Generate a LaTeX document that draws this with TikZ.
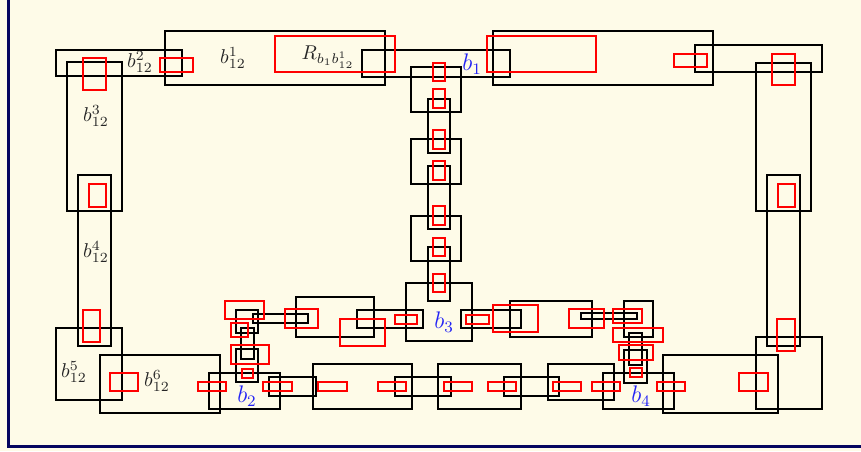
\documentclass[tikz,border=0pt]{standalone}
\begin{document}
\definecolor{paper}{RGB}{254,251,232}
\definecolor{framenavy}{RGB}{5,5,95}
\definecolor{lblblue}{RGB}{35,35,245}
\begin{tikzpicture}[x=0.5pt,y=-0.5pt,
  blk/.style={draw=black,line width=1.2pt},
  rd/.style={draw=red,line width=1.2pt},
  lbl/.style={inner sep=0pt,text=black!85},
  blbl/.style={inner sep=0pt,text=lblblue,font=\large}]
\newcommand\blkrect[4]{\draw[blk] (#1,#2) rectangle (#3,#4);}
\newcommand\redrect[4]{\draw[rd] (#1,#2) rectangle (#3,#4);}
% page
\fill[paper] (0,0) rectangle (861,451);
\useasboundingbox (0,0) rectangle (861,451);
\draw[framenavy,line width=1.5pt] (8,-5) -- (8,446.5) -- (870,446.5);

% ---- outer ring, left part
\blkrect{56}{50}{182}{76}
\blkrect{165}{31}{385}{85}
\blkrect{67}{62}{122}{211}
\blkrect{78}{175}{111}{346}
\blkrect{56}{328}{122}{400}
\blkrect{100}{355}{220}{413}
% ---- top bar
\blkrect{362}{50}{510}{77}
\blkrect{493}{31}{713}{85}
\blkrect{695}{45}{822}{72}
% ---- right side
\blkrect{756}{63}{811}{211}
\blkrect{767}{175}{800}{346}
\blkrect{756}{337}{822}{409}
\blkrect{663}{355}{778}{413}
\blkrect{603}{373}{674}{409}
% ---- vertical chain b1 -> b3
\blkrect{411}{67}{461}{112}
\blkrect{428}{99}{450}{153}
\blkrect{411}{139}{461}{184}
\blkrect{428}{166}{450}{229}
\blkrect{411}{216}{461}{261}
\blkrect{428}{247}{450}{301}
\blkrect{406}{283}{472}{341}
% ---- middle row through b3
\blkrect{357}{310}{423}{328}
\blkrect{296}{297}{374}{337}
\blkrect{253}{314}{308}{323}
\blkrect{461}{310}{521}{328}
\blkrect{510}{301}{592}{337}
\blkrect{581}{313}{637}{319}
\blkrect{624}{301}{653}{337}
% ---- short links above b4
\blkrect{629}{333}{642}{365}
\blkrect{624}{350}{647}{383}
% ---- short links above b2
\blkrect{236}{310}{258}{333}
\blkrect{241}{328}{254}{359}
\blkrect{236}{349}{258}{382}
% ---- bottom row
\blkrect{209}{373}{280}{409}
\blkrect{269}{377}{316}{396}
\blkrect{313}{364}{412}{409}
\blkrect{395}{377}{451}{396}
\blkrect{438}{364}{521}{409}
\blkrect{504}{377}{559}{396}
\blkrect{548}{364}{614}{400}

% ---- overlap regions
\redrect{83}{58}{106}{90}
\redrect{160}{58}{193}{72}
\redrect{89}{184}{106}{207}
\redrect{83}{310}{100}{342}
\redrect{110}{373}{138}{391}
\redrect{275}{36}{395}{72}
\redrect{487}{36}{596}{72}
\redrect{674}{54}{707}{67}
\redrect{772}{54}{795}{85}
\redrect{778}{184}{795}{207}
\redrect{777}{319}{795}{351}
\redrect{739}{373}{768}{391}
\redrect{433}{63}{445}{81}
\redrect{433}{89}{445}{108}
\redrect{433}{130}{445}{149}
\redrect{433}{161}{445}{180}
\redrect{433}{206}{445}{225}
\redrect{433}{238}{445}{256}
\redrect{433}{274}{445}{292}
\redrect{340}{319}{385}{346}
\redrect{395}{315}{417}{324}
\redrect{285}{309}{318}{328}
\redrect{466}{315}{489}{324}
\redrect{493}{305}{538}{332}
\redrect{569}{309}{604}{328}
\redrect{613}{309}{642}{323}
\redrect{613}{328}{663}{342}
\redrect{619}{345}{653}{360}
\redrect{630}{368}{642}{377}
\redrect{225}{301}{264}{319}
\redrect{231}{323}{248}{337}
\redrect{231}{345}{269}{364}
\redrect{242}{369}{253}{378}
\redrect{198}{382}{226}{391}
\redrect{263}{382}{292}{391}
\redrect{318}{382}{347}{391}
\redrect{378}{382}{406}{391}
\redrect{444}{382}{472}{391}
\redrect{488}{382}{516}{391}
\redrect{553}{382}{581}{391}
\redrect{592}{382}{620}{391}
\redrect{657}{382}{685}{391}

% ---- labels
\node[lbl] (l2) at (140,62) {$b_{12}^{2}$};
\node[lbl] (l1) at (233,58) {$b_{12}^{1}$};
\node[lbl] (lr) at (328,57) {$R_{b_1b_{12}^1}$};
\node[lbl] (l3) at (96,116) {$b_{12}^{3}$};
\node[lbl] (l4) at (96,252) {$b_{12}^{4}$};
\node[lbl] (l5) at (74,372) {$b_{12}^{5}$};
\node[lbl] (l6) at (157,381) {$b_{12}^{6}$};
\node[blbl] (n1) at (472,64) {$b_1$};
\node[blbl] (n2) at (247,396) {$b_2$};
\node[blbl] (n3) at (444,322) {$b_3$};
\node[blbl] (n4) at (641,396) {$b_4$};
\end{tikzpicture}
\end{document}
